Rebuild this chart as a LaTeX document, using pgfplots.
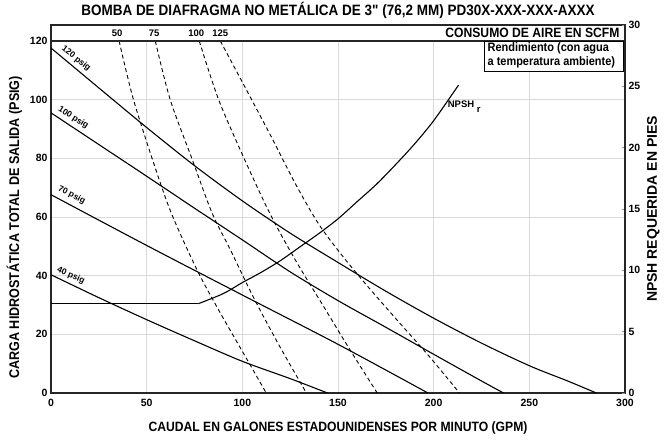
\documentclass[border=0pt]{standalone}
\usepackage{fontspec}
\setmainfont{Liberation Sans}
\newfontfamily\cond{Liberation Sans}[FakeStretch=0.9]
\usepackage{pgfplots}
\pgfplotsset{compat=1.18}

\begin{document}
\begin{tikzpicture}
\useasboundingbox (-51pt,-48pt) rectangle (621pt,393pt);
\begin{axis}[
  at={(0,0)}, anchor=south west,
  scale only axis, width=574pt, height=368pt,
  xmin=0, xmax=300, ymin=0, ymax=125.45,
  xtick={0,50,...,300}, ytick={0,20,...,120},
  grid=major, grid style={black!15, line width=0.8pt},
  major tick length=0pt,
  axis line style={line width=1.3pt, black!85},
  tick label style={font=\fontsize{10.5}{12}\selectfont\bfseries},
  xticklabel style={yshift=-2.5pt},
  /pgf/number format/assume math mode=true,
  xlabel={CAUDAL EN GALONES ESTADOUNIDENSES POR MINUTO (GPM)},
  ylabel={CARGA HIDROSTÁTICA TOTAL DE SALIDA (PSIG)},
  label style={font=\cond\fontsize{14}{16}\selectfont\bfseries},
  xlabel style={font=\cond\fontsize{13.5}{16}\selectfont\bfseries},
  xlabel shift=8pt,
  ylabel shift=1pt,
  ylabel style={at={(ticklabel cs:0.45)}},
  title={BOMBA DE DIAFRAGMA NO METÁLICA DE 3" (76,2 MM) PD30X-XXX-XXX-AXXX},
  title style={font=\cond\fontsize{15}{17}\selectfont\bfseries, yshift=-3pt},
  clip=false,
]
% pressure curves
\addplot[black, line width=1.1pt, smooth] coordinates {(0,117.6) (25,104) (50,90.5) (75,77.5) (100,65.5) (125,54.5) (150,44.5) (175,34.7) (200,25.5) (225,17) (250,9.3) (270,4.1) (285,0)};
\addplot[black, line width=1.1pt, smooth] coordinates {(0,95.5) (25,84.7) (50,73.9) (75,63) (100,52.2) (125,41.3) (150,31.5) (175,22.4) (200,13.2) (225,4.1) (236.5,0)};
\addplot[black, line width=1.1pt, smooth] coordinates {(0,67.6) (50,50.3) (100,33.4) (150,16.6) (197,0)};
\addplot[black, line width=1.1pt, smooth] coordinates {(0,40.3) (25,32.5) (50,25) (75,17.8) (100,10.8) (125,4.9) (144.5,0)};
% air consumption curves
\addplot[black, line width=0.9pt, dash pattern=on 4pt off 3pt, smooth] coordinates {(35.6,120) (43.1,100) (54.5,76.7) (63.2,60.8) (76.3,42) (87.6,28.3) (101.6,12.4) (112.5,0)};
\addplot[black, line width=0.9pt, dash pattern=on 4pt off 3pt, smooth] coordinates {(54.5,120) (62.3,100) (73.6,80) (84.1,61.5) (94,48.5) (105.5,33) (119,16.5) (133.5,0)};
\addplot[black, line width=0.9pt, dash pattern=on 4pt off 3pt, smooth] coordinates {(77.5,120) (87.6,100) (101.6,79) (114.7,60.8) (128,45) (142,30) (156,15) (170.5,0)};
\addplot[black, line width=0.9pt, dash pattern=on 4pt off 3pt, smooth] coordinates {(88.5,120) (101.6,104) (115,87.5) (128,71) (140,57.5) (152,47) (164,37.5) (180,25.5) (197,13) (213.5,0)};
% band
\draw[line width=1.3pt, black!85, fill=white] (axis cs:0,120) rectangle (axis cs:300,125.45);
\node[font=\fontsize{9.5}{11}\selectfont\bfseries] at (axis cs:34.6,122.7) {50};
\node[font=\fontsize{9.5}{11}\selectfont\bfseries] at (axis cs:53.9,122.7) {75};
\node[font=\fontsize{9.5}{11}\selectfont\bfseries] at (axis cs:75.9,122.7) {100};
\node[font=\fontsize{9.5}{11}\selectfont\bfseries] at (axis cs:88.5,122.7) {125};
\node[anchor=east, font=\cond\fontsize{13.5}{15}\selectfont\bfseries] at (axis cs:299,122.7) {CONSUMO DE AIRE EN SCFM};
% performance box
\draw[line width=0.9pt, fill=white] (axis cs:226.7,120) rectangle (axis cs:299.3,109.6);
\node[anchor=north west, align=left, inner sep=1.5pt, font=\cond\fontsize{12.2}{13.5}\selectfont\bfseries] at (axis cs:227.3,119.9) {Rendimiento (con agua\\a temperatura ambiente)};
% pressure labels
\node[rotate=-38, font=\fontsize{8.5}{9}\selectfont\bfseries] at (axis cs:13.1,114.0) {120 psig};
\node[rotate=-32, font=\fontsize{8.5}{9}\selectfont\bfseries] at (axis cs:11.7,93.8) {100 psig};
\node[rotate=-27, font=\fontsize{8.5}{9}\selectfont\bfseries] at (axis cs:10.8,67.4) {70 psig};
\node[rotate=-24, font=\fontsize{8.5}{9}\selectfont\bfseries] at (axis cs:10.4,40.0) {40 psig};
\node[anchor=west, inner sep=0pt, font=\fontsize{9.5}{11}\selectfont\bfseries] at (axis cs:207.3,97.6) {NPSH \raisebox{-5pt}{r}};
\end{axis}
\begin{axis}[
  at={(0,0)}, anchor=south west,
  scale only axis, width=574pt, height=368pt,
  xmin=0, xmax=300, ymin=0, ymax=30,
  axis x line=none, axis y line*=right,
  ytick={0,5,...,30},
  major tick length=3pt, tick style={black!40, line width=0.6pt},
  axis line style={line width=1.3pt, black!85},
  tick label style={font=\fontsize{10.5}{12}\selectfont\bfseries},
  /pgf/number format/assume math mode=true,
  ylabel={NPSH REQUERIDA EN PIES},
  ylabel shift=0pt,
  ylabel style={font=\fontsize{14}{16}\selectfont\bfseries},
]
\addplot[black, line width=1.1pt] coordinates {(0,7.28) (77,7.28)};
\addplot[black, line width=1.1pt, smooth] coordinates {(77,7.28) (90,8.1) (100,9.0) (110,9.85) (120,10.8) (130,11.9) (140,13.0) (150,14.2) (160,15.6) (170,17.0) (180,18.6) (190,20.3) (200,22.2) (213,25.1)};
\end{axis}
\end{tikzpicture}
\end{document}
